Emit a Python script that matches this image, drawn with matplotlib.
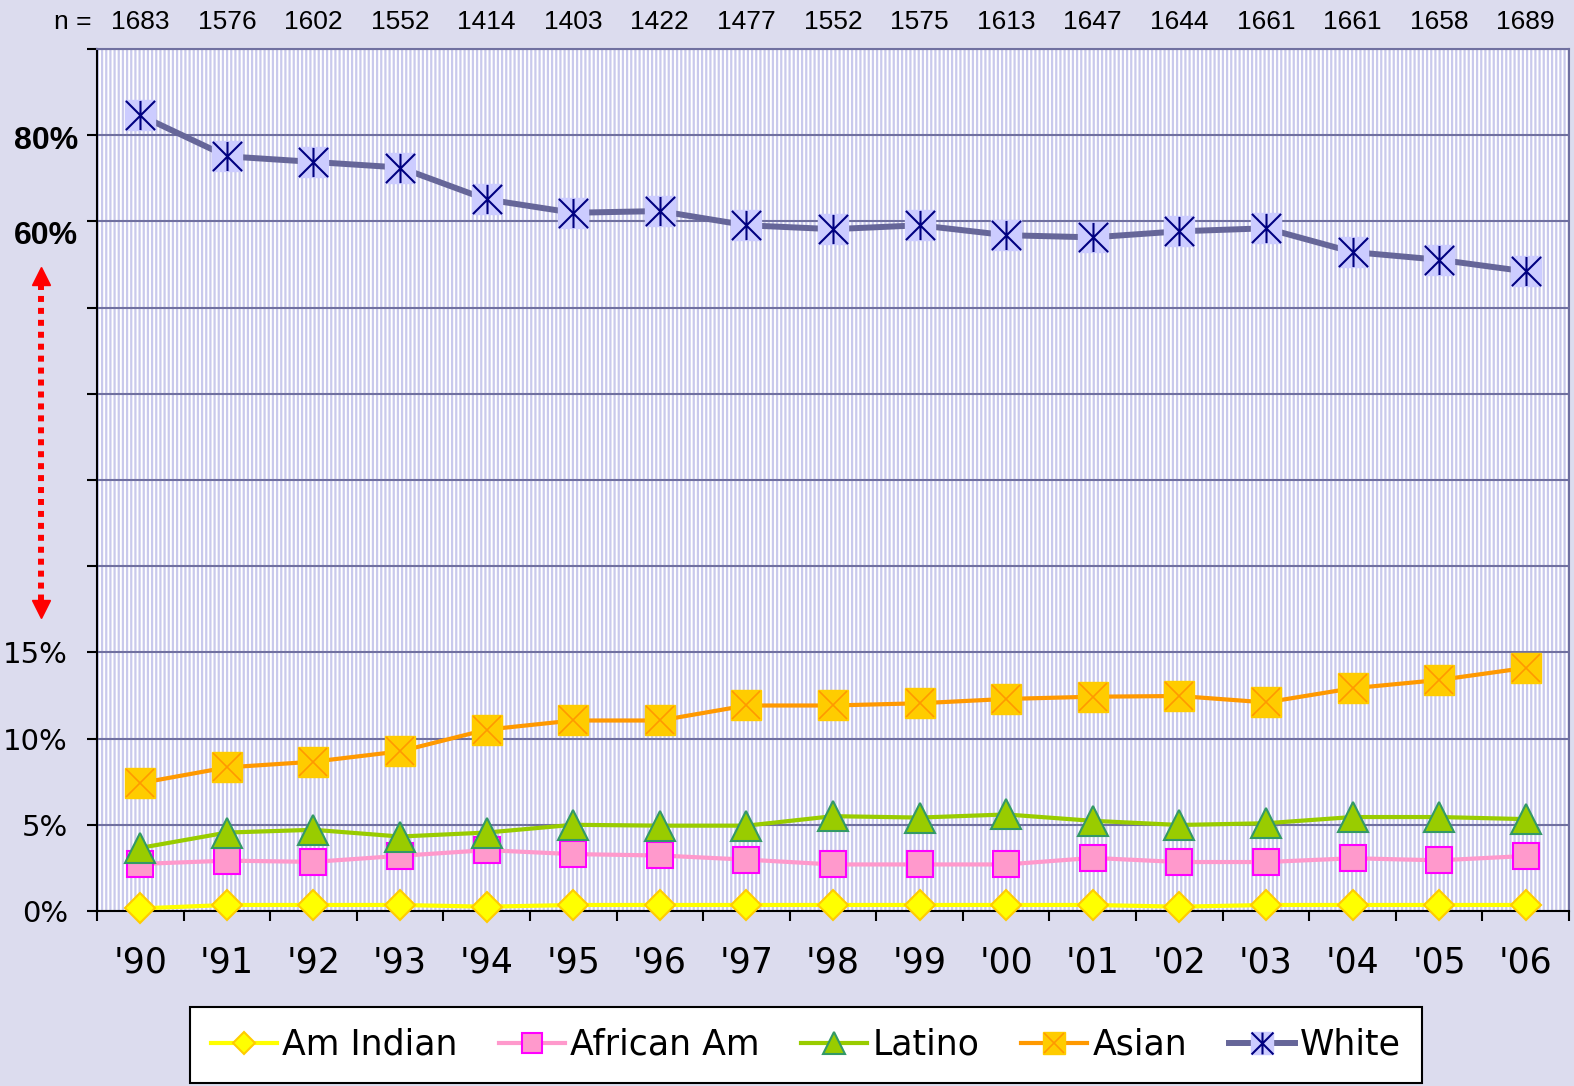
import numpy as np
import matplotlib
matplotlib.use("Agg")
import matplotlib.pyplot as plt
from matplotlib.lines import Line2D
from matplotlib.path import Path
from matplotlib.transforms import ScaledTranslation

years = ["'90", "'91", "'92", "'93", "'94", "'95", "'96", "'97", "'98",
         "'99", "'00", "'01", "'02", "'03", "'04", "'05", "'06"]
n_counts = [1683, 1576, 1602, 1552, 1414, 1403, 1422, 1477, 1552,
            1575, 1613, 1647, 1644, 1661, 1661, 1658, 1689]

am_indian = [0.15, 0.35, 0.35, 0.35, 0.25, 0.35, 0.35, 0.35, 0.35,
             0.35, 0.35, 0.35, 0.25, 0.35, 0.35, 0.35, 0.35]
african_am = [2.73, 2.92, 2.85, 3.2, 3.53, 3.3, 3.22, 2.98, 2.7,
              2.7, 2.7, 3.08, 2.84, 2.84, 3.06, 2.94, 3.19]
latino = [3.66, 4.55, 4.71, 4.32, 4.55, 5.0, 4.95, 4.95, 5.5,
          5.42, 5.6, 5.23, 4.99, 5.09, 5.45, 5.45, 5.33]
asian = [7.42, 8.33, 8.66, 9.26, 10.52, 11.05, 11.05, 11.92, 11.92,
         12.05, 12.3, 12.43, 12.47, 12.1, 12.92, 13.4, 14.1]
white = [84.6, 75.1, 73.8, 72.5, 65.1, 62.0, 62.4, 59.1, 58.2,
         59.1, 56.8, 56.3, 57.7, 58.4, 52.9, 51.1, 48.4]

ytick_vals = [0, 5, 10, 15, 21.25, 27.5, 33.75, 40, 60, 80, 100]
ytick_labels = ['0%', '5%', '10%', '15%', '', '', '', '', '60%', '80%', '']


# broken axis: 0-15% on the bottom, 40-100% squeezed on top
def fwd(v):
    v = np.asarray(v, dtype=float)
    return np.where(v <= 15, v / 5,
                    np.where(v <= 40, 3 + (v - 15) * 4 / 25, 8 + (v - 60) / 20))


def inv(u):
    u = np.asarray(u, dtype=float)
    return np.where(u <= 3, u * 5,
                    np.where(u <= 7, 15 + (u - 3) * 25 / 4, 60 + (u - 8) * 20))


plt.rcParams['font.family'] = 'DejaVu Sans'
plt.rcParams['hatch.linewidth'] = 1.6

fig = plt.figure(figsize=(15.74, 10.86), dpi=100, facecolor='#dcdcee')
ax = fig.add_axes([97 / 1574, 1 - 911 / 1086, 1472 / 1574, 862 / 1086])

ax.patch.set_facecolor('white')
ax.patch.set_edgecolor('#c9c9ec')
ax.patch.set_linewidth(0)
ax.patch.set_hatch('||||')

x = np.arange(len(years))
ax.set_yscale('function', functions=(fwd, inv))

l1, = ax.plot(x, am_indian, color='#ffff00', lw=3, marker='D', ms=15,
              mfc='#ffff00', mec='#ffcc00', mew=1.5, clip_on=False, zorder=3)
l2, = ax.plot(x, african_am, color='#ff99cc', lw=3, marker='s', ms=19,
              mfc='#ff99cc', mec='#ff00ff', mew=1.5, clip_on=False, zorder=3)
l3, = ax.plot(x, latino, color='#99cc00', lw=3, marker='^', ms=21,
              mfc='#99cc00', mec='#339966', mew=1.5, clip_on=False, zorder=3)
l4, = ax.plot(x, asian, color='#ff9900', lw=3, marker='s', ms=21.5,
              mfc='#ffcc00', mec='#ffcc00', mew=1, clip_on=False, zorder=3)
l4x, = ax.plot(x, asian, ls='none', marker='x', ms=20, mec='#ff9900',
               mew=1.2, clip_on=False, zorder=3)
l5, = ax.plot(x, white, color='#666699', lw=4.3, marker='s', ms=21.5,
              mfc='#ccccff', mec='#ccccff', mew=1, clip_on=False, zorder=4)
asterisk = Path([(0, -1), (0, 1), (-1, -1), (1, 1), (-1, 1), (1, -1)],
                [Path.MOVETO, Path.LINETO, Path.MOVETO, Path.LINETO,
                 Path.MOVETO, Path.LINETO])
l5x, = ax.plot(x, white, ls='none', marker=asterisk, ms=21, mec='#000080',
               mew=1.5, clip_on=False, zorder=4)

ax.set_xlim(-0.5, len(years) - 0.5)
ax.set_ylim(0, 100)

ax.set_yticks(ytick_vals)
ax.set_yticklabels(ytick_labels)
ax.yaxis.set_minor_locator(matplotlib.ticker.NullLocator())
ax.grid(axis='y', color='#7070a0', lw=1.5)
ax.tick_params(axis='y', length=7, width=1.5, pad=14, labelsize=21)

for lab in ax.get_yticklabels():
    if lab.get_text() in ('60%', '80%'):
        lab.set_family('Liberation Sans')
        lab.set_fontweight('bold')
        lab.set_fontsize(23)
        dy = -11 if lab.get_text() == '60%' else -2
        lab.set_transform(lab.get_transform() +
                          ScaledTranslation(10 / 100, dy / 100, fig.dpi_scale_trans))

ax.set_xticks(x)
ax.set_xticklabels(years)
ax.set_xticks(np.arange(-0.5, len(years), 1), minor=True)
ax.tick_params(axis='x', which='major', length=0, pad=25, labelsize=25)
ax.tick_params(axis='x', which='minor', length=7, width=1.5, direction='out')

for side in ['left', 'bottom']:
    ax.spines[side].set_color('black')
    ax.spines[side].set_linewidth(1.5)
for side in ['top', 'right']:
    ax.spines[side].set_color('#7070a0')
    ax.spines[side].set_linewidth(1.5)

# sample sizes above the plot
for xi, n in zip(x, n_counts):
    ax.text(xi, 1.031, str(n), transform=ax.get_xaxis_transform(),
            ha='center', va='center', fontsize=19, family='Liberation Sans')
fig.text(99 / 1574, 1 - 22 / 1086, 'n = ', ha='right', va='center',
         fontsize=19, family='Liberation Sans')

# red dotted double arrow marking the axis break
ax_x = 41 / 1574
fig.add_artist(Line2D([ax_x, ax_x], [1 - 284 / 1086, 1 - 601 / 1086],
                      transform=fig.transFigure, color='red', lw=4.3,
                      ls=(0, (1, 1)), dash_capstyle='butt'))
fig.add_artist(Line2D([ax_x], [1 - 276 / 1086], transform=fig.transFigure,
                      ls='none', marker='^', ms=13, color='red'))
fig.add_artist(Line2D([ax_x], [1 - 609 / 1086], transform=fig.transFigure,
                      ls='none', marker='v', ms=13, color='red'))

handles = [l1, l2, l3, (l4, l4x), (l5, l5x)]
names = ['Am Indian', 'African Am', 'Latino', 'Asian', 'White']
leg = fig.legend(handles, names, loc='lower center', ncol=5,
                 bbox_to_anchor=(0.512, 0.003), borderaxespad=0,
                 fontsize=25, frameon=True,
                 fancybox=False, edgecolor='black', framealpha=1,
                 markerscale=0.75, handlelength=1.9, handletextpad=0.15,
                 columnspacing=1.2, borderpad=0.6)
leg.get_frame().set_linewidth(1.5)

fig.savefig('out.png', dpi=100, facecolor=fig.get_facecolor())
